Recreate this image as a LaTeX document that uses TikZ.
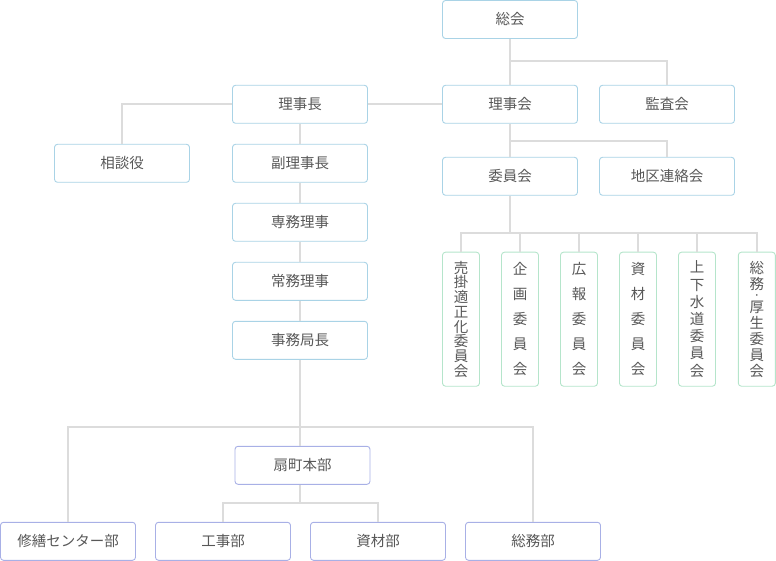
\documentclass[tikz,border=0pt]{standalone}
\usepackage{fontspec}
\setmainfont{Noto Sans CJK JP}
\definecolor{boxblue}{HTML}{A9D3E6}
\definecolor{boxgreen}{HTML}{B5E5CB}
\definecolor{boxpurple}{HTML}{A8B0E6}
\definecolor{linegray}{HTML}{DCDCDC}
\definecolor{textgray}{HTML}{585858}
\newcommand\tightls{\lineskiplimit-50pt\relax}
\newcommand\smalldot{{\fontsize{8}{8}\selectfont ・}}
\begin{document}
\begin{tikzpicture}[x=1pt,y=-1pt,
  hbox/.style={draw=#1, fill=white, rounded corners=3pt, line width=0.9pt,
    minimum width=135pt, minimum height=38pt, inner sep=0pt, text=textgray,
    font=\fontsize{14.5}{17}\selectfont},
  vbox/.style={draw=boxgreen, fill=white, rounded corners=3pt, line width=0.9pt,
    minimum width=37pt, minimum height=134pt, inner sep=0pt, text=textgray,
    align=center},
  vsA/.style={font=\fontsize{14.5}{14.7}\selectfont\tightls},
  vsB/.style={font=\fontsize{14.5}{25.1}\selectfont\tightls},
  vsC/.style={font=\fontsize{14.5}{17.2}\selectfont\tightls},
  vsD/.style={font=\fontsize{14.5}{16}\selectfont\tightls},
  conn/.style={draw=linegray, line width=2pt}]
\useasboundingbox (0,0) rectangle (776,561);
% top section
\node[hbox=boxblue] (soukai) at (510,19.5) {総会};
\node[hbox=boxblue] (rijikai) at (510,104.3) {理事会};
\node[hbox=boxblue] (kansa) at (667,104.3) {監査会};
\node[hbox=boxblue] (iinkai) at (510,176.3) {委員会};
\node[hbox=boxblue] (chiku) at (667,176.3) {地区連絡会};
\node[hbox=boxblue] (rijicho) at (300,104.3) {理事長};
\node[hbox=boxblue] (soudan) at (122,163.3) {相談役};
\node[hbox=boxblue] (fuku) at (300,163.3) {副理事長};
\node[hbox=boxblue] (senmu) at (300,222.3) {専務理事};
\node[hbox=boxblue] (joumu) at (300,281.3) {常務理事};
\node[hbox=boxblue] (jimu) at (300,340.3) {事務局長};
% committees
\node[vbox, vsA] (c1) at (461,319.2) {売\\掛\\適\\正\\化\\委\\員\\会};
\node[vbox, vsB] (c2) at (520,319.2) {企\\画\\委\\員\\会};
\node[vbox, vsB] (c3) at (579,319.2) {広\\報\\委\\員\\会};
\node[vbox, vsB] (c4) at (638,319.2) {資\\材\\委\\員\\会};
\node[vbox, vsC] (c5) at (697,319.2) {上\\下\\水\\道\\委\\員\\会};
\node[vbox, vsD] (c6) at (756.8,319.2) {総\\務\\[-6.8pt]\smalldot\\[-1.9pt]厚\\生\\委\\員\\会};
% bottom section
\node[hbox=boxpurple] (ougi) at (302.5,465.3) {扇町本部};
\node[hbox=boxpurple] (shuzen) at (68,541.3) {修繕センター部};
\node[hbox=boxpurple] (kouji) at (223,541.3) {工事部};
\node[hbox=boxpurple] (shizai) at (378,541.3) {資材部};
\node[hbox=boxpurple] (soumu) at (533,541.3) {総務部};
% bus coordinates
\coordinate (b1) at (510,61);
\coordinate (b2) at (510,141);
\coordinate (b3) at (510,233.3);
\coordinate (b4) at (300,426.7);
\coordinate (b5) at (300,502.7);
% connectors
\draw[conn] (soukai.south) -- (rijikai.north);
\draw[conn] (b1) -| (kansa.north);
\draw[conn] (rijikai.south) -- (iinkai.north);
\draw[conn] (b2) -| (chiku.north);
\draw[conn] (rijicho.east) -- (rijikai.west);
\draw[conn] (rijicho.west) -| (soudan.north);
\draw[conn] (rijicho.south) -- (fuku.north);
\draw[conn] (fuku.south) -- (senmu.north);
\draw[conn] (senmu.south) -- (joumu.north);
\draw[conn] (joumu.south) -- (jimu.north);
\draw[conn] (iinkai.south) -- (b3);
\draw[conn] (c1.north) |- (b3) -| (c6.north);
\foreach \c in {c2,c3,c4,c5} \draw[conn] (\c.north) -- (\c.north |- b3);
\draw[conn] (jimu.south) -- (jimu.south |- ougi.north);
\draw[conn] (shuzen.north) |- (b4) -| (soumu.north);
\draw[conn] (ougi.south -| b5) -- (b5);
\draw[conn] (kouji.north) |- (b5) -| (shizai.north);
\end{tikzpicture}
\end{document}
